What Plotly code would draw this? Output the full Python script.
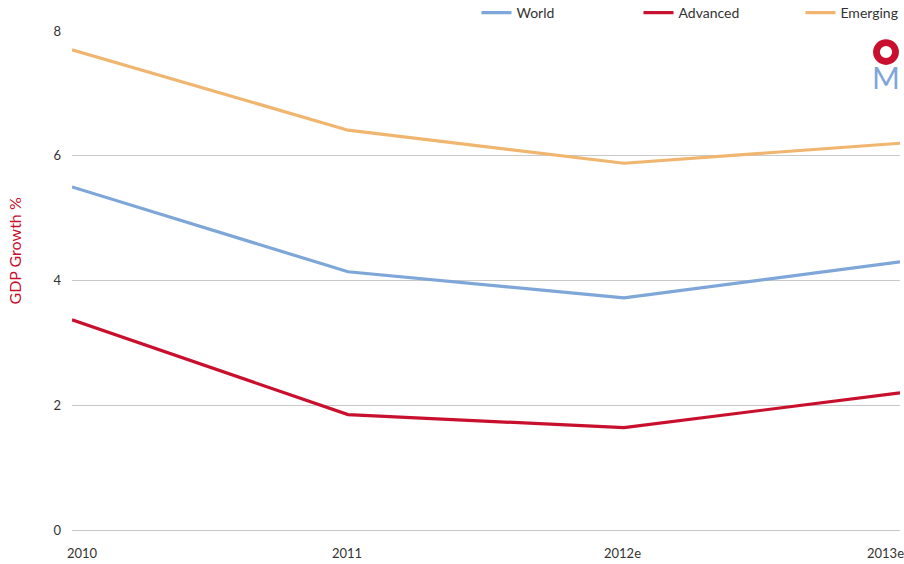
import plotly.graph_objects as go

# GDP growth by economy group
years = ["2010", "2011", "2012e", "2013e"]
world = [5.5, 4.14, 3.72, 4.3]
advanced = [3.37, 1.85, 1.64, 2.2]
emerging = [7.7, 6.41, 5.88, 6.2]
y_ticks = [0, 2, 4, 6, 8]

FONT = "Lato"
RED = "#c8102e"
BLUE = "#7ea6d8"
series = [
    ("World", world, BLUE),
    ("Advanced", advanced, RED),
    ("Emerging", emerging, "#f0b56f"),
]

x_idx = list(range(len(years)))
fig = go.Figure()
for name, vals, color in series:
    fig.add_trace(go.Scatter(
        x=x_idx, y=vals, name=name, mode="lines",
        line=dict(color=color, width=3.2),
    ))

# year labels, edge labels pulled inside the plot area
label_shift = [10, -1, -2, -15]
for i, (yr, sh) in enumerate(zip(years, label_shift)):
    fig.add_annotation(
        x=i, y=0, xref="x", yref="y", text=yr, showarrow=False,
        xanchor="center", yanchor="top", xshift=sh, yshift=-13,
        font=dict(family=FONT, size=13, color="#333333"),
    )

# vertical axis title
fig.add_annotation(x=0, y=0.558, xref="paper", yref="paper", text="GDP Growth %",
                   showarrow=False, textangle=-90, xanchor="center", yanchor="middle",
                   xshift=-57, font=dict(family=FONT, size=16, color=RED))

# logo in the top-right corner
fig.add_shape(type="circle", xref="paper", yref="paper",
              x0=0.9716, x1=0.9946, y0=0.9389, y1=0.9769,
              line=dict(color=RED, width=6.8), fillcolor="rgba(0,0,0,0)")
fig.add_annotation(x=0.9831, y=0.9479, xref="paper", yref="paper", text="M",
                   showarrow=False, xanchor="center", yanchor="top",
                   font=dict(family=FONT, size=30, color=BLUE))

fig.update_layout(
    width=904, height=564,
    margin=dict(l=72, r=4, t=31, b=34, autoexpand=False),
    paper_bgcolor="white", plot_bgcolor="white",
    font=dict(family=FONT, size=13, color="#333333"),
    showlegend=True,
    legend=dict(orientation="h", x=0.4885, xanchor="left", y=1.036, yanchor="middle",
                entrywidth=117, entrywidthmode="pixels",
                font=dict(family=FONT, size=14, color="#333333"),
                bgcolor="rgba(0,0,0,0)"),
    xaxis=dict(range=[0, 3], showgrid=False, zeroline=False, showticklabels=False,
               showline=False, fixedrange=True),
    yaxis=dict(range=[0, 8], tickvals=y_ticks, showgrid=True, gridcolor="#c9c9c9",
               gridwidth=1, zeroline=True, zerolinecolor="#c9c9c9", zerolinewidth=1,
               showline=False, ticklabelstandoff=10,
               tickfont=dict(family=FONT, size=13, color="#333333")),
)

fig.write_html("out.html")
